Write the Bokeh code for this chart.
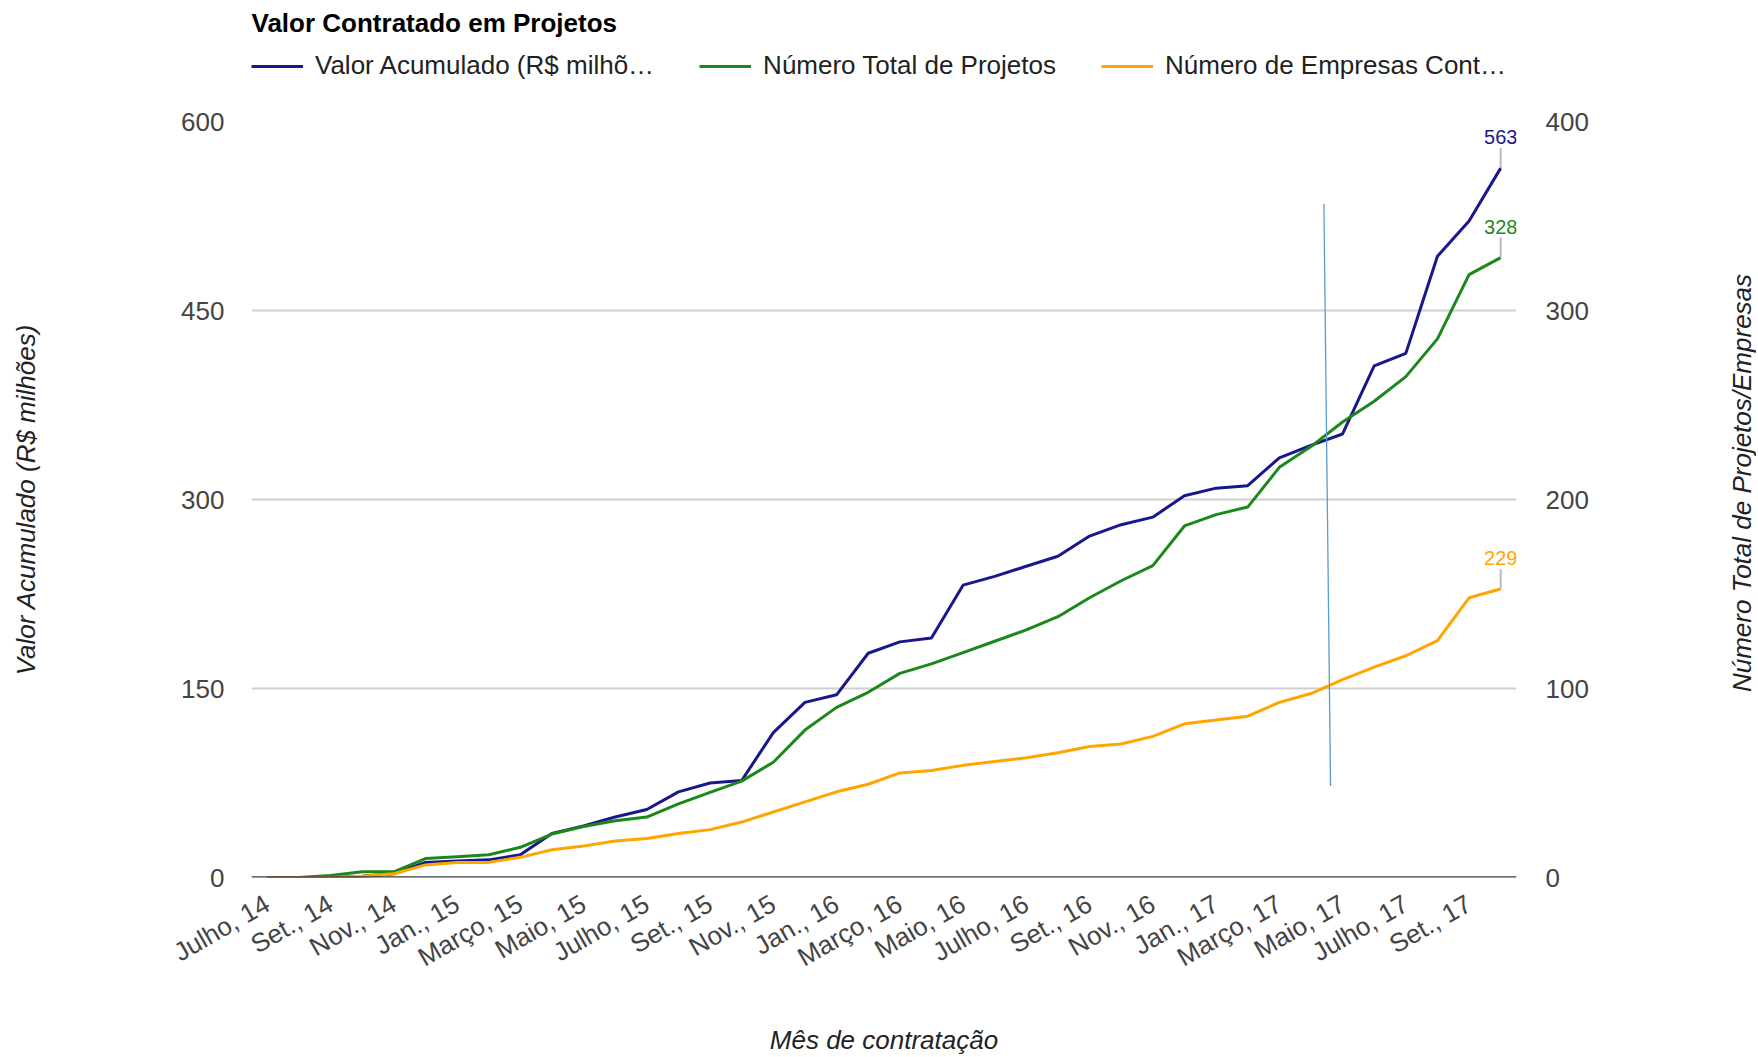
import math
from bokeh.plotting import figure
from bokeh.layouts import row, column
from bokeh.models import Range1d, LinearAxis, FixedTicker, Legend, LegendItem, Span
from bokeh.core.properties import value
from bokeh.embed import file_html
from bokeh.resources import INLINE

# ---------------- data ----------------
meses = [
    "Julho, 14", "Ago., 14", "Set., 14", "Out., 14", "Nov., 14", "Dez., 14",
    "Jan., 15", "Fev., 15", "Março, 15", "Abril, 15", "Maio, 15", "Junho, 15",
    "Julho, 15", "Ago., 15", "Set., 15", "Out., 15", "Nov., 15", "Dez., 15",
    "Jan., 16", "Fev., 16", "Março, 16", "Abril, 16", "Maio, 16", "Junho, 16",
    "Julho, 16", "Ago., 16", "Set., 16", "Out., 16", "Nov., 16", "Dez., 16",
    "Jan., 17", "Fev., 17", "Março, 17", "Abril, 17", "Maio, 17", "Junho, 17",
    "Julho, 17", "Ago., 17", "Set., 17", "Out., 17",
]

valor_acumulado = [0, 0, 0, 1, 3, 12, 13, 14, 18, 35, 41, 48, 54, 68, 75, 77,
                   115, 139, 145, 178, 187, 190, 232, 239, 247, 255, 271, 280,
                   286, 303, 309, 311, 333, 343, 352, 406, 416, 493, 521, 563]

numero_projetos = [0, 0, 1, 3, 3, 10, 11, 12, 16, 23, 27, 30, 32, 39, 45, 51,
                   61, 78, 90, 98, 108, 113, 119, 125, 131, 138, 148, 157,
                   165, 186, 192, 196, 217, 228, 241, 252, 265, 285, 319, 328]

numero_empresas = [0, 0, 0, 1, 3, 10, 12, 12, 16, 22, 25, 29, 31, 35, 38, 44,
                   52, 60, 68, 74, 83, 85, 89, 92, 95, 99, 104, 106,
                   112, 122, 125, 128, 139, 146, 157, 167, 176, 188, 222, 229]

ticks_esquerda = [0, 150, 300, 450, 600]
ticks_direita = [0, 100, 200, 300, 400]

titulo = "Valor Contratado em Projetos"
legenda = ["Valor Acumulado (R$ milhõ…", "Número Total de Projetos", "Número de Empresas Cont…"]
titulo_y_esq = "Valor Acumulado (R$ milhões)"
titulo_y_dir = "Número Total de Projetos/Empresas"
titulo_x = "Mês de contratação"

# thin blue annotation stroke seen in the chart (month index, left-axis value)
marca_x = [33.41, 33.62]
marca_y = [534.6, 72.6]

# ---------------- style / layout ----------------
FONT = "Liberation Sans"
AZUL = "#18188c"
VERDE = "#1c881c"
LARANJA = "#ffa500"

FW, FH = 1265, 756
B_LEFT, B_RIGHT, B_TOP, B_BOTTOM = 251, 210, 20, 178
HEAD_H = 101          # header strip (title + legend) above the chart
SIDE_W = 30           # strip on the right for the right-hand axis title
SIDE_SHIFT = 60       # vertical correction for the right-hand title
MAIN_W = B_LEFT + FW + B_RIGHT
MAIN_H = B_TOP + FH + B_BOTTOM
idx = list(range(len(meses)))
NAN = float("nan")

# ---------------- main chart ----------------
p = figure(frame_width=FW, frame_height=FH,
           x_range=Range1d(-0.5, len(meses) - 0.5), y_range=Range1d(0, 600),
           output_backend="svg", toolbar_location=None,
           min_border_left=B_LEFT, min_border_right=B_RIGHT,
           min_border_top=B_TOP, min_border_bottom=B_BOTTOM,
           outline_line_color=None, background_fill_color="white", border_fill_color="white")
p.title = None
p.extra_y_ranges = {"dir": Range1d(0, 400)}


def style_axis(ax, standoff):
    ax.axis_line_color = None
    ax.major_tick_line_color = None
    ax.minor_tick_line_color = None
    ax.major_tick_out = 0
    ax.major_tick_in = 0
    ax.major_label_text_font = FONT
    ax.major_label_text_font_size = "26px"
    ax.major_label_text_color = "#444444"
    ax.major_label_standoff = standoff
    ax.axis_label_text_font = FONT
    ax.axis_label_text_font_size = "26px"
    ax.axis_label_text_font_style = "italic"
    ax.axis_label_text_color = "#222222"


yl = p.yaxis[0]
yl.ticker = FixedTicker(ticks=ticks_esquerda)
style_axis(yl, 27)
yl.axis_label = titulo_y_esq
yl.axis_label_standoff = 137

yr = LinearAxis(y_range_name="dir", ticker=FixedTicker(ticks=ticks_direita))
style_axis(yr, 29)
p.add_layout(yr, "right")

xa = p.xaxis[0]
xa.ticker = FixedTicker(ticks=idx[::2])
xa.major_label_overrides = {i: meses[i] for i in idx[::2]}
xa.major_label_orientation = math.pi / 6
style_axis(xa, 24)
xa.axis_label = titulo_x
xa.axis_label_standoff = 37

p.xgrid.grid_line_color = None
p.ygrid.ticker = FixedTicker(ticks=ticks_esquerda)
p.ygrid.grid_line_color = "#d0d0d0"
p.ygrid.grid_line_width = 2

p.add_layout(Span(location=0, dimension="width", line_color="#3a3a3a", line_width=2.5))

r1 = p.line(idx, valor_acumulado, line_color=AZUL, line_width=3)
r2 = p.line(idx, numero_projetos, line_color=VERDE, line_width=3, y_range_name="dir")
r3 = p.line(idx, numero_empresas, line_color=LARANJA, line_width=3)

p.segment(x0=[marca_x[0]], y0=[marca_y[0]], x1=[marca_x[1]], y1=[marca_y[1]],
          line_color="#5b9bd5", line_width=1.3)

stem_left = 20 * 600 / FH
stem_right = 20 * 400 / FH
last = idx[-1]
for vals, col, rng, stem in [(valor_acumulado, AZUL, None, stem_left),
                             (numero_projetos, VERDE, "dir", stem_right),
                             (numero_empresas, LARANJA, None, stem_left)]:
    v = vals[-1]
    kw = {} if rng is None else {"y_range_name": rng}
    p.segment(x0=[last], y0=[v], x1=[last], y1=[v + stem], line_color="#bbbbbb", line_width=2, **kw)
    p.text(x=[last], y=[v], text=[str(v)], text_align="center", text_baseline="middle",
           y_offset=-31, text_font=value(FONT), text_font_size="20px", text_color=col, **kw)

# ---------------- header strip: title + legend ----------------
head = figure(width=MAIN_W + SIDE_W, height=HEAD_H,
              x_range=Range1d(0, MAIN_W + SIDE_W), y_range=Range1d(0, HEAD_H),
              output_backend="svg", toolbar_location=None,
              x_axis_location=None, y_axis_location=None, min_border=0,
              outline_line_color=None, background_fill_color="white", border_fill_color="white")
head.title = None
head.grid.grid_line_color = None
head.text(x=[B_LEFT], y=[HEAD_H - 22], text=[titulo], text_align="left", text_baseline="middle",
          text_font=value(FONT), text_font_size="26px", text_font_style="bold", text_color="#000000")
s1 = head.line(x=[NAN, NAN], y=[NAN, NAN], line_color=AZUL, line_width=3)
s2 = head.line(x=[NAN, NAN], y=[NAN, NAN], line_color=VERDE, line_width=3)
s3 = head.line(x=[NAN, NAN], y=[NAN, NAN], line_color=LARANJA, line_width=3)
leg = Legend(items=[LegendItem(label=legenda[0], renderers=[s1]),
                    LegendItem(label=legenda[1], renderers=[s2]),
                    LegendItem(label=legenda[2], renderers=[s3])],
             orientation="horizontal", location=(B_LEFT, 20),
             glyph_width=52, glyph_height=30, label_standoff=12, spacing=45,
             padding=0, margin=0, border_line_color=None, background_fill_alpha=0,
             label_text_font=FONT, label_text_font_size="26px", label_text_color="#222222")
head.add_layout(leg, "center")

# ---------------- right strip: right-hand axis title (bottom-to-top) ----------------
side = figure(width=SIDE_W, height=MAIN_H, x_range=Range1d(0, SIDE_W), y_range=Range1d(0, MAIN_H),
              output_backend="svg", toolbar_location=None, x_axis_location=None, y_axis_location=None,
              min_border=0, outline_line_color=None, background_fill_color="white",
              border_fill_color="white")
side.title = None
side.grid.grid_line_color = None
side.text(x=[SIDE_W / 2], y=[B_BOTTOM + FH / 2 - SIDE_SHIFT], text=[titulo_y_dir], angle=math.pi / 2,
          text_align="center", text_baseline="middle", text_font=value(FONT), text_font_size="26px",
          text_font_style="italic", text_color="#222222")

layout = column(head, row(p, side, spacing=0), spacing=0)
open("out.html", "w").write(file_html(layout, INLINE))
